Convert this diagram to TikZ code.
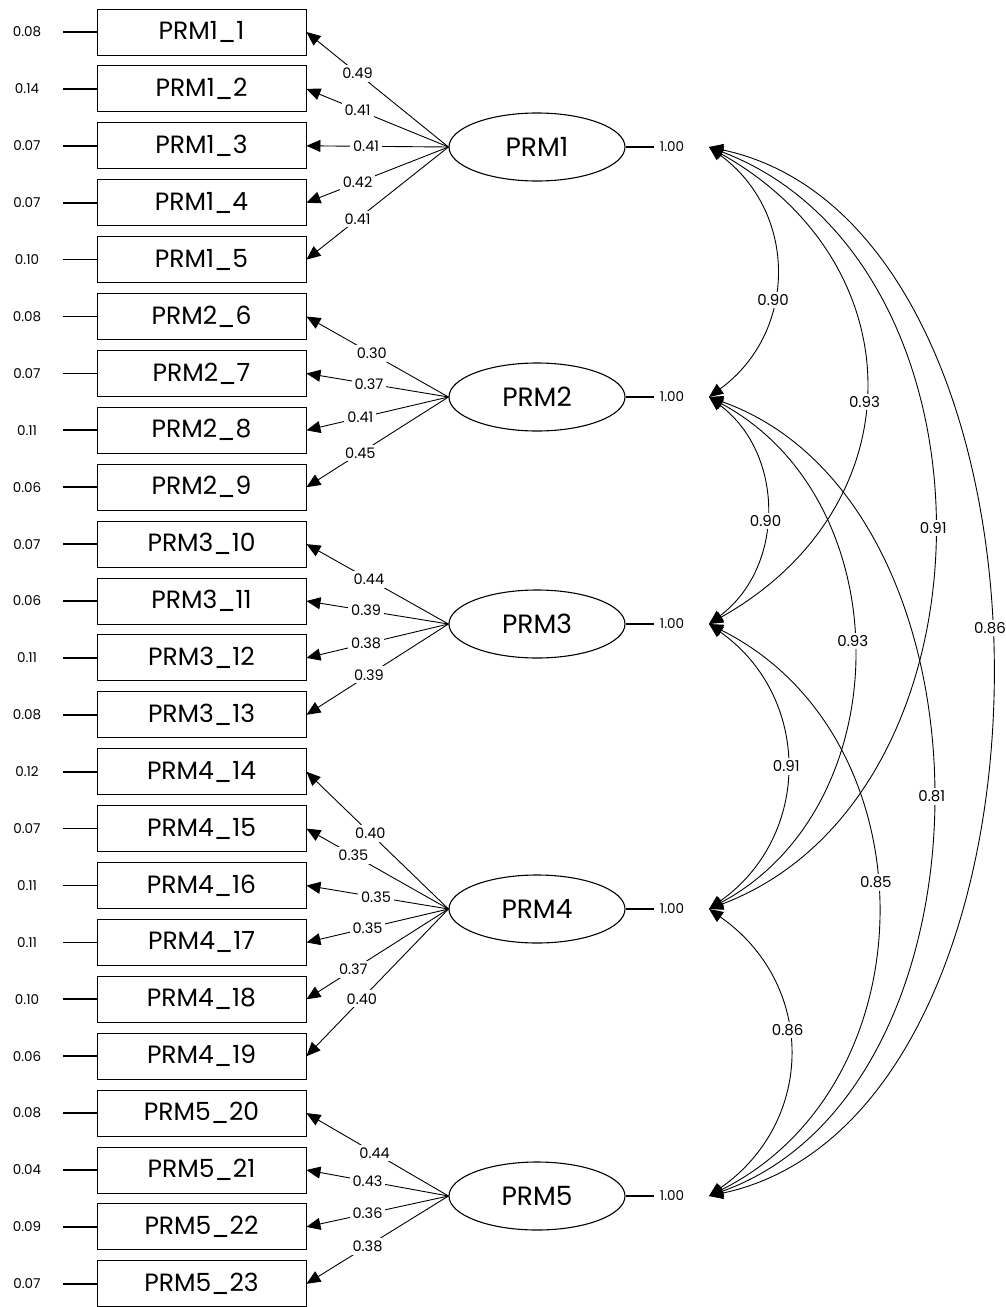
\documentclass[tikz,border=0pt]{standalone}
\usepackage{fontspec}
\setmainfont{Poppins}
\usetikzlibrary{arrows.meta,calc,shapes.geometric}

\begin{document}
\begin{tikzpicture}[x=1pt,y=-1pt,
  obs/.style={draw, line width=0.9pt, minimum width=209pt, minimum height=46pt,
              inner sep=0pt, font=\fontsize{25}{27}\selectfont},
  lat/.style={draw, ellipse, line width=1.1pt, minimum width=176pt, minimum height=68pt,
              inner sep=0pt, font=\fontsize{26.5}{28}\selectfont},
  small/.style={font=\fontsize{13.5}{15}\selectfont, inner sep=1pt},
  lbl/.style={font=\fontsize{14.5}{16}\selectfont, fill=white, inner sep=3pt},
  clbl/.style={font=\fontsize{15}{17}\selectfont, fill=white, inner sep=2.5pt},
  resid/.style={line width=1.7pt},
  load/.style={line width=0.9pt, -{Triangle[length=14pt,width=12pt]}},
  cov/.style={line width=0.9pt, {Triangle[length=14pt,width=12pt]}-{Triangle[length=14pt,width=12pt]}}
]
\useasboundingbox[fill=white] (0,0) rectangle (1006,1307);

% observed indicators with their residual variances
\foreach \i/\t/\r in {1/PRM1\_1/0.08, 2/PRM1\_2/0.14, 3/PRM1\_3/0.07, 4/PRM1\_4/0.07,
    5/PRM1\_5/0.10, 6/PRM2\_6/0.08, 7/PRM2\_7/0.07, 8/PRM2\_8/0.11, 9/PRM2\_9/0.06,
    10/PRM3\_10/0.07, 11/PRM3\_11/0.06, 12/PRM3\_12/0.11, 13/PRM3\_13/0.08,
    14/PRM4\_14/0.12, 15/PRM4\_15/0.07, 16/PRM4\_16/0.11, 17/PRM4\_17/0.11,
    18/PRM4\_18/0.10, 19/PRM4\_19/0.06, 20/PRM5\_20/0.08, 21/PRM5\_21/0.04,
    22/PRM5\_22/0.09, 23/PRM5\_23/0.07}{
  \pgfmathsetmacro{\yy}{32+56.9*(\i-1)}
  \node[obs] (i\i) at (201.5,\yy) {\t};
  \node[small] (r\i) at (27,\yy) {\r};
  \coordinate (e\i) at (63,\yy);
  \draw[resid] (e\i) -- (i\i.west);
}

% latent factors, their variances and the ends of the covariance arcs
\foreach \k/\yy in {1/147, 2/397, 3/624, 4/909, 5/1196}{
  \node[lat] (f\k) at (537,\yy) {PRM\k};
  \coordinate (v\k) at (654,\yy);
  \draw[resid] (f\k.east) -- (v\k);
  \node[small] (u\k) at (672,\yy) {1.00};
  \coordinate (t\k) at (709,\yy);
}

% factor loadings
\draw[load] (f1.west) -- node[lbl,pos=0.64]{0.49} (i1.east);
\draw[load] (f1.west) -- node[lbl,pos=0.64]{0.41} (i2.east);
\draw[load] (f1.west) -- node[lbl,pos=0.58]{0.41} (i3.east);
\draw[load] (f1.west) -- node[lbl,pos=0.64]{0.42} (i4.east);
\draw[load] (f1.west) -- node[lbl,pos=0.64]{0.41} (i5.east);

\draw[load] (f2.west) -- node[lbl,pos=0.54]{0.30} (i6.east);
\draw[load] (f2.west) -- node[lbl,pos=0.56]{0.37} (i7.east);
\draw[load] (f2.west) -- node[lbl,pos=0.62]{0.41} (i8.east);
\draw[load] (f2.west) -- node[lbl,pos=0.62]{0.45} (i9.east);

\draw[load] (f3.west) -- node[lbl,pos=0.56]{0.44} (i10.east);
\draw[load] (f3.west) -- node[lbl,pos=0.58]{0.39} (i11.east);
\draw[load] (f3.west) -- node[lbl,pos=0.58]{0.38} (i12.east);
\draw[load] (f3.west) -- node[lbl,pos=0.56]{0.39} (i13.east);

\draw[load] (f4.west) -- node[lbl,pos=0.55]{0.40} (i14.east);
\draw[load] (f4.west) -- node[lbl,pos=0.67]{0.35} (i15.east);
\draw[load] (f4.west) -- node[lbl,pos=0.51]{0.35} (i16.east);
\draw[load] (f4.west) -- node[lbl,pos=0.57]{0.35} (i17.east);
\draw[load] (f4.west) -- node[lbl,pos=0.67]{0.37} (i18.east);
\draw[load] (f4.west) -- node[lbl,pos=0.61]{0.40} (i19.east);

\draw[load] (f5.west) -- node[lbl,pos=0.52]{0.44} (i20.east);
\draw[load] (f5.west) -- node[lbl,pos=0.57]{0.43} (i21.east);
\draw[load] (f5.west) -- node[lbl,pos=0.57]{0.36} (i22.east);
\draw[load] (f5.west) -- node[lbl,pos=0.57]{0.38} (i23.east);

% factor covariances
\draw[cov] (t1) .. controls +(89,65) and +(89,-65) .. node[clbl,pos=0.6]{0.90} (t2);
\draw[cov] (t1) .. controls +(208,117) and +(208,-117) .. node[clbl,pos=0.53]{0.93} (t3);
\draw[cov] (t1) .. controls +(299,113) and +(299,-113) .. node[clbl,pos=0.5]{0.91} (t4);
\draw[cov] (t1) .. controls +(376,80) and +(376,-80) .. node[clbl,pos=0.47]{0.86} (t5);
\draw[cov] (t2) .. controls +(76,57) and +(76,-57) .. node[clbl,pos=0.54]{0.90} (t3);
\draw[cov] (t2) .. controls +(192,103) and +(192,-103) .. node[clbl,pos=0.48]{0.93} (t4);
\draw[cov] (t2) .. controls +(297,106) and +(297,-106) .. node[clbl,pos=0.5]{0.81} (t5);
\draw[cov] (t3) .. controls +(103,73) and +(103,-73) .. node[clbl,pos=0.5]{0.91} (t4);
\draw[cov] (t3) .. controls +(224,112) and +(224,-112) .. node[clbl,pos=0.46]{0.85} (t5);
\draw[cov] (t4) .. controls +(107,75) and +(107,-75) .. node[clbl,pos=0.43]{0.86} (t5);
\end{tikzpicture}
\end{document}
